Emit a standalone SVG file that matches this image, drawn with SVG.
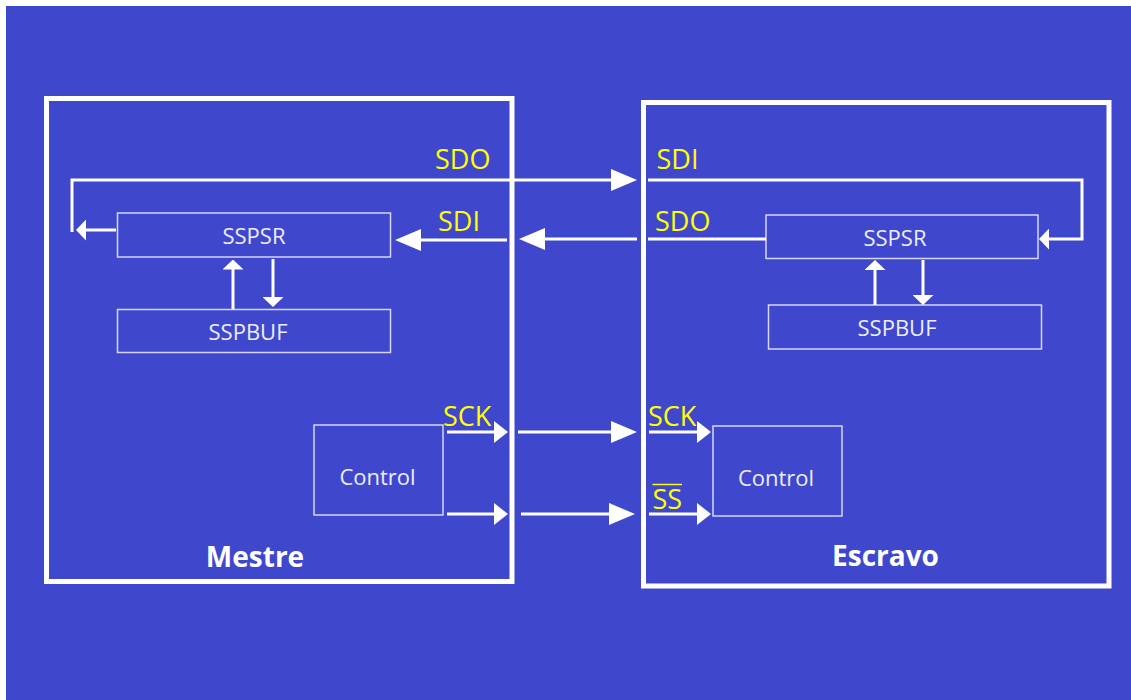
<svg xmlns="http://www.w3.org/2000/svg" width="1131" height="700" viewBox="0 0 1131 700">
<style>
.bg{fill:#3F48CC}
.outer{fill:none;stroke:#FFFFFF;stroke-width:5}
.inner{fill:none;stroke:#D6D6F5;stroke-width:1.5}
.lbl{font-family:"Open Sans","Noto Sans",sans-serif;font-size:22px;fill:#EDEDFF;text-anchor:middle}
.title{font-family:"Open Sans","Noto Sans",sans-serif;font-size:28px;font-weight:bold;fill:#FFFFFF;text-anchor:middle}
.sig{font-family:"Open Sans","Noto Sans",sans-serif;font-size:27px;fill:#FFFF00}
.wire{fill:none;stroke:#FFFFFF;stroke-width:3}
</style>
<defs>
<marker id="aL" markerUnits="userSpaceOnUse" markerWidth="26" markerHeight="22" refX="6" refY="11" orient="auto" viewBox="0 0 26 22"><path d="M0,0 L26,11 L0,22 Z" fill="#FFFFFF"/></marker>
<marker id="aM" markerUnits="userSpaceOnUse" markerWidth="14" markerHeight="22" refX="4" refY="11" orient="auto" viewBox="0 0 14 22"><path d="M0,0 L14,11 L0,22 Z" fill="#FFFFFF"/></marker>
<marker id="aS" markerUnits="userSpaceOnUse" markerWidth="10" markerHeight="21" refX="3" refY="10.5" orient="auto" viewBox="0 0 10 21"><path d="M0,0 L10,10.5 L0,21 Z" fill="#FFFFFF"/></marker>
</defs>
<rect x="0" y="0" width="1131" height="700" fill="#FFFFFF"/>
<rect class="bg" x="6" y="6" width="1125" height="694"/>

<g id="mestre">
<rect class="outer" x="46.5" y="98.5" width="465.5" height="483"/>
<text class="title" x="255" y="566.5">Mestre</text>
</g>
<g id="escravo">
<rect class="outer" x="643.5" y="102.5" width="465.5" height="483.5"/>
<text class="title" x="885.5" y="566">Escravo</text>
</g>

<g id="m-sspsr">
<rect class="inner" x="117.5" y="213" width="273" height="44"/>
<text class="lbl" x="254" y="244">SSPSR</text>
</g>
<g id="m-sspbuf">
<rect class="inner" x="117.5" y="309.5" width="273" height="43"/>
<text class="lbl" x="248" y="340">SSPBUF</text>
</g>
<g id="m-control">
<rect class="inner" x="314" y="425" width="129" height="90"/>
<text class="lbl" x="377.5" y="485">Control</text>
</g>
<g id="s-sspsr">
<rect class="inner" x="766" y="215" width="272" height="43.5"/>
<text class="lbl" x="895" y="245.5">SSPSR</text>
</g>
<g id="s-sspbuf">
<rect class="inner" x="768.5" y="305" width="273" height="44"/>
<text class="lbl" x="897" y="336">SSPBUF</text>
</g>
<g id="s-control">
<rect class="inner" x="713" y="426" width="129" height="90"/>
<text class="lbl" x="776" y="486">Control</text>
</g>

<g id="connectors">
<path class="wire" d="M72,232 V180 H617" marker-end="url(#aL)"/>
<path class="wire" d="M116,230 H83" marker-end="url(#aS)"/>
<path class="wire" d="M648,180 H1082 V239 H1046" marker-end="url(#aS)"/>
<path class="wire" d="M507,240 H415" marker-end="url(#aL)"/>
<path class="wire" d="M637,239 H539" marker-end="url(#aL)"/>
<path class="wire" d="M648,239 H766"/>
<path class="wire" d="M233,309 V266.5" marker-end="url(#aS)"/>
<path class="wire" d="M273,259 V300" marker-end="url(#aS)"/>
<path class="wire" d="M875,305 V267" marker-end="url(#aS)"/>
<path class="wire" d="M923,260 V298" marker-end="url(#aS)"/>
<path class="wire" d="M447,432 H498" marker-end="url(#aM)"/>
<path class="wire" d="M518,432 H617" marker-end="url(#aL)"/>
<path class="wire" d="M649,432 H701" marker-end="url(#aM)"/>
<path class="wire" d="M447,514 H498" marker-end="url(#aM)"/>
<path class="wire" d="M521,514 H615" marker-end="url(#aL)"/>
<path class="wire" d="M649,514 H701" marker-end="url(#aM)"/>
</g>

<g id="labels">
<text class="sig" x="435" y="168.5">SDO</text>
<text class="sig" x="438" y="230.5">SDI</text>
<text class="sig" x="656.5" y="169">SDI</text>
<text class="sig" x="655" y="230.5">SDO</text>
<text class="sig" x="443" y="426">SCK</text>
<text class="sig" x="648" y="426">SCK</text>
<text class="sig" x="652.5" y="509">SS</text>
<line x1="652.5" y1="484.5" x2="682" y2="484.5" stroke="#FFFF00" stroke-width="1.5"/>
</g>
</svg>
